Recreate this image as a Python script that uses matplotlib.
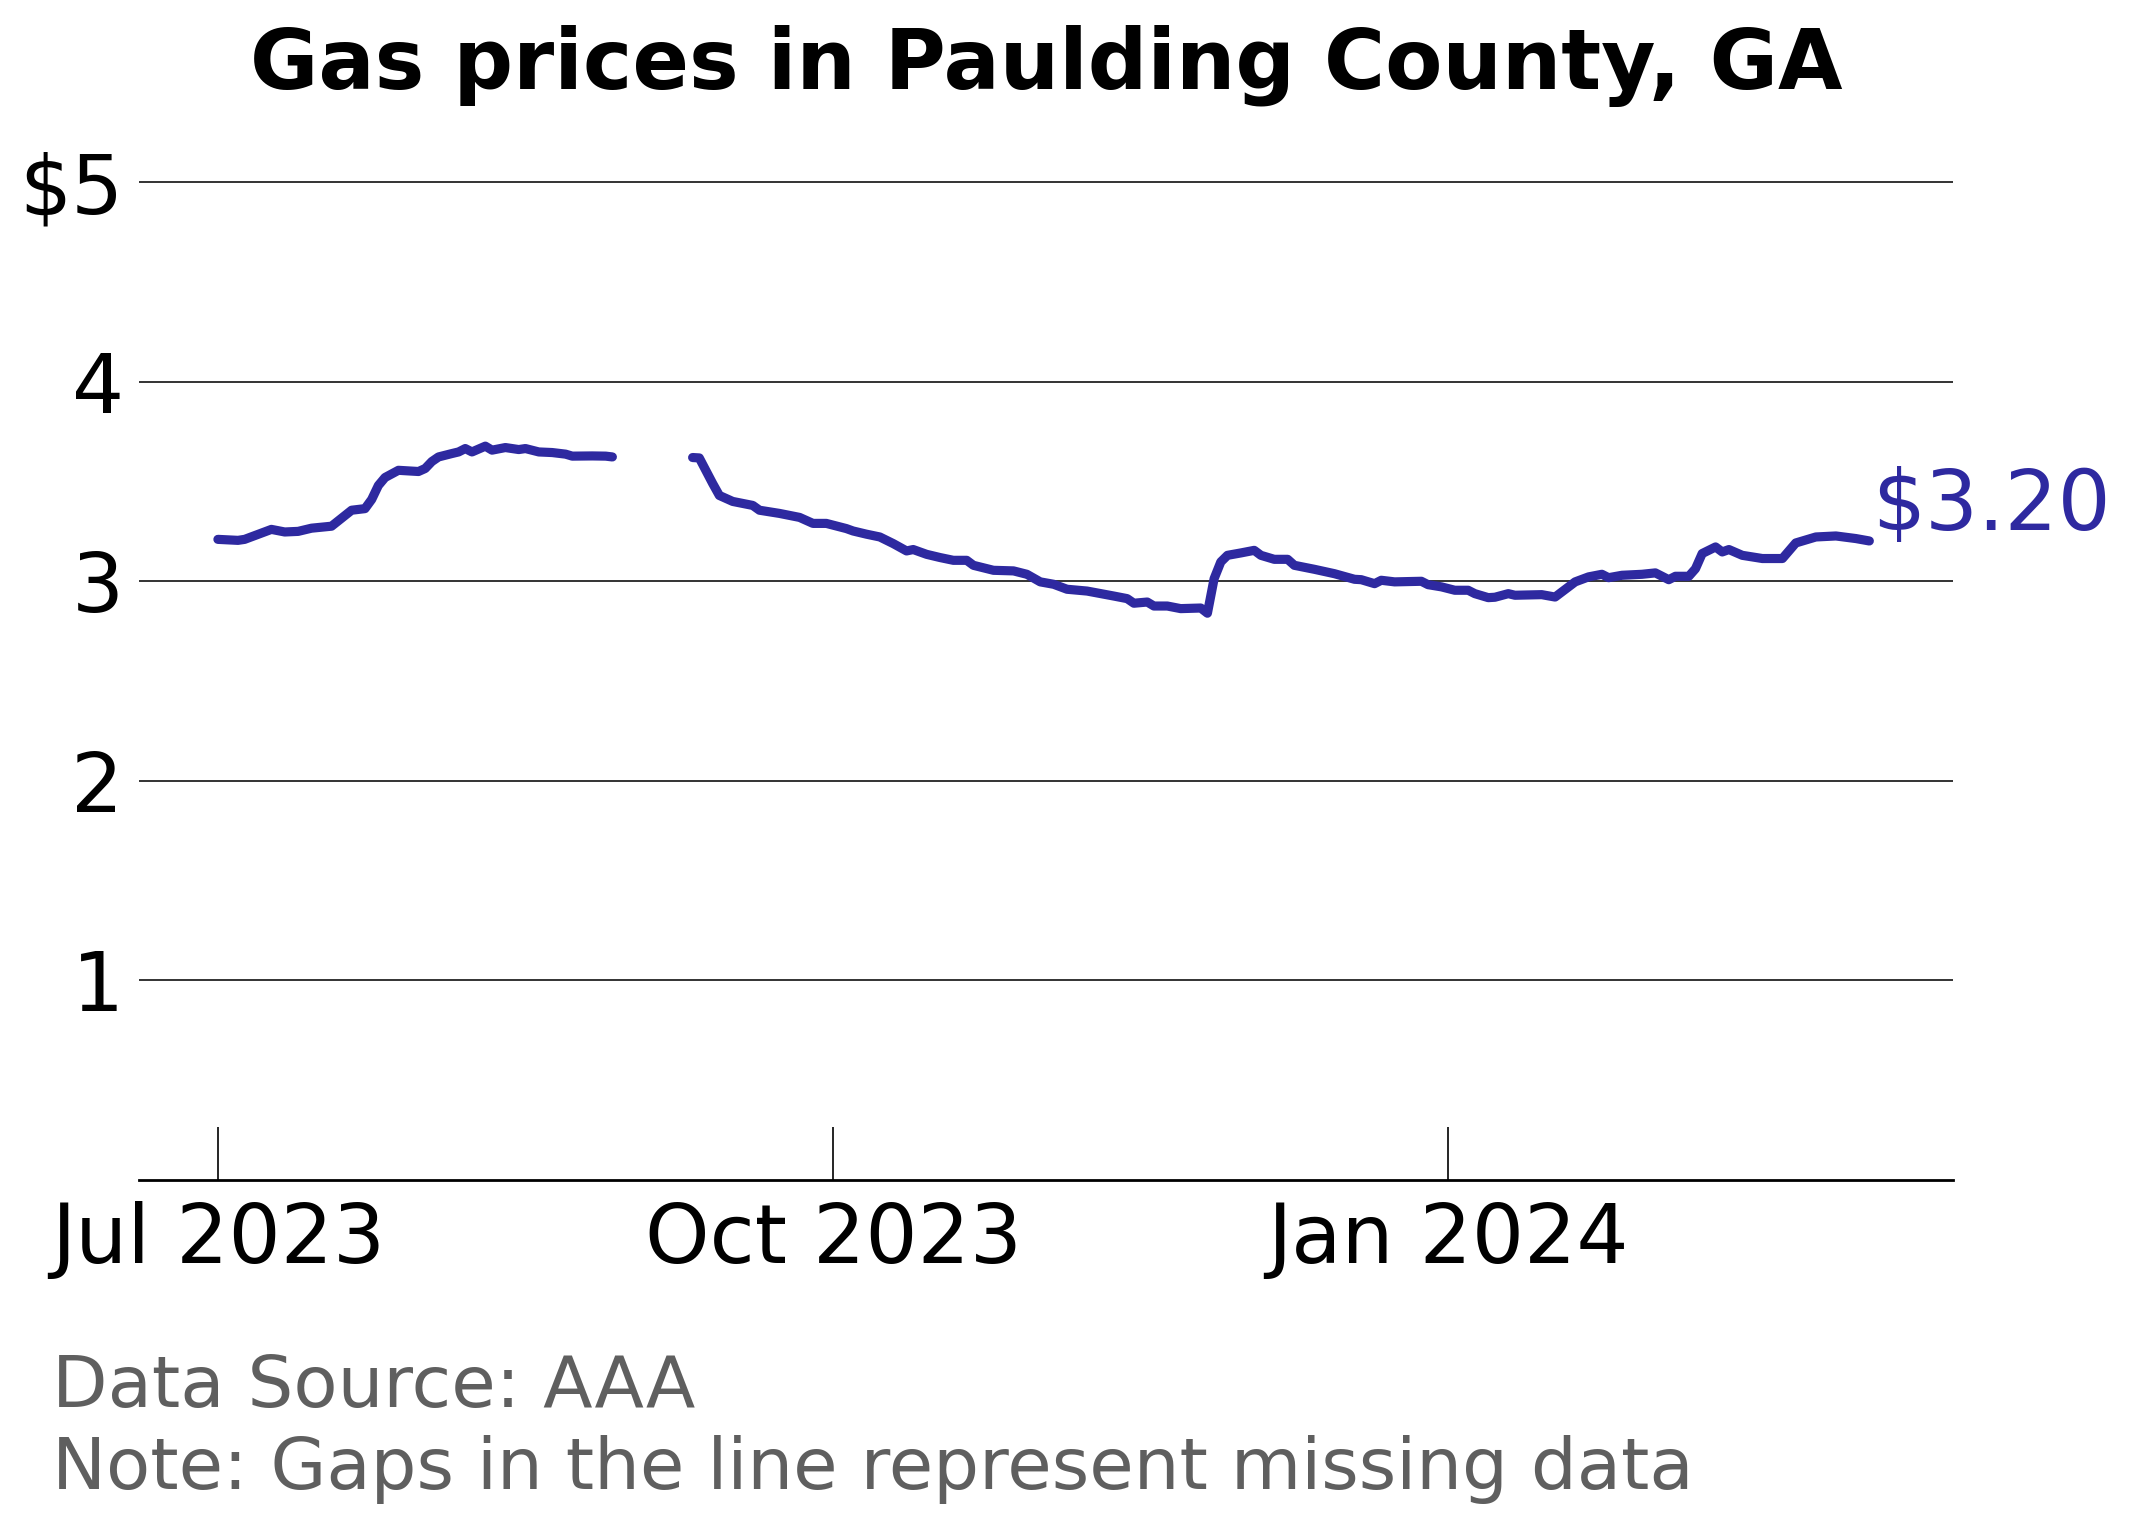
import matplotlib
matplotlib.use('Agg')
import matplotlib.pyplot as plt
import matplotlib.dates as mdates
import numpy as np
import pandas as pd

# values (gap = missing data)
dates = ['2023-07-01', '2023-07-04', '2023-07-05', '2023-07-07', '2023-07-09', '2023-07-11',
         '2023-07-13', '2023-07-15', '2023-07-18', '2023-07-21', '2023-07-23', '2023-07-24',
         '2023-07-25', '2023-07-26', '2023-07-28', '2023-07-31', '2023-08-01', '2023-08-02',
         '2023-08-03', '2023-08-05', '2023-08-06', '2023-08-07', '2023-08-08', '2023-08-10',
         '2023-08-11', '2023-08-13', '2023-08-15', '2023-08-16', '2023-08-18', '2023-08-20',
         '2023-08-22', '2023-08-23', '2023-08-26', '2023-08-28', '2023-08-29',
         '2023-09-05',
         '2023-09-10', '2023-09-11', '2023-09-13', '2023-09-14', '2023-09-16', '2023-09-19',
         '2023-09-20',
         '2023-09-23', '2023-09-26', '2023-09-28', '2023-09-30', '2023-10-03', '2023-10-04',
         '2023-10-06', '2023-10-08', '2023-10-10', '2023-10-12', '2023-10-13', '2023-10-15',
         '2023-10-17', '2023-10-19', '2023-10-21', '2023-10-22', '2023-10-25', '2023-10-28',
         '2023-10-30', '2023-11-01', '2023-11-03', '2023-11-05', '2023-11-08', '2023-11-12',
         '2023-11-14', '2023-11-15', '2023-11-17', '2023-11-18', '2023-11-20', '2023-11-22',
         '2023-11-25', '2023-11-26', '2023-11-27', '2023-11-28', '2023-11-29', '2023-12-01',
         '2023-12-03', '2023-12-04', '2023-12-06', '2023-12-08', '2023-12-09', '2023-12-12',
         '2023-12-15', '2023-12-18', '2023-12-19', '2023-12-21', '2023-12-22', '2023-12-24',
         '2023-12-28', '2023-12-29', '2023-12-31', '2024-01-02', '2024-01-04', '2024-01-05',
         '2024-01-07', '2024-01-08', '2024-01-10', '2024-01-11', '2024-01-15', '2024-01-17',
         '2024-01-20', '2024-01-22', '2024-01-24', '2024-01-25', '2024-01-27', '2024-01-30',
         '2024-02-01', '2024-02-03', '2024-02-04', '2024-02-06', '2024-02-07', '2024-02-08',
         '2024-02-10', '2024-02-11', '2024-02-12', '2024-02-14', '2024-02-17', '2024-02-20',
         '2024-02-22', '2024-02-25', '2024-02-28', '2024-03-02', '2024-03-04']
prices = [3.21, 3.205, 3.21, 3.235, 3.26, 3.247,
          3.25, 3.266, 3.276, 3.356, 3.364, 3.41,
          3.48, 3.52, 3.556, 3.55, 3.565, 3.60,
          3.623, 3.64, 3.648, 3.665, 3.648, 3.677,
          3.657, 3.67, 3.66, 3.665, 3.648, 3.645,
          3.637, 3.627, 3.628, 3.627, 3.623,
          np.nan,
          3.62, 3.618, 3.49, 3.43, 3.40, 3.38,
          3.356,
          3.34, 3.32, 3.29, 3.29, 3.264, 3.252,
          3.236, 3.222, 3.189, 3.152, 3.159, 3.135,
          3.119, 3.105, 3.105, 3.08, 3.055, 3.052,
          3.035, 2.997, 2.985, 2.96, 2.951, 2.926,
          2.913, 2.89, 2.896, 2.876, 2.876, 2.863,
          2.866, 2.84, 3.013, 3.097, 3.13, 3.142,
          3.155, 3.13, 3.11, 3.11, 3.08, 3.06,
          3.038, 3.01, 3.008, 2.988, 3.005, 2.997,
          3.0, 2.983, 2.972, 2.955, 2.955, 2.938,
          2.918, 2.92, 2.938, 2.93, 2.933, 2.921,
          2.997, 3.022, 3.035, 3.018, 3.03, 3.035,
          3.042, 3.008, 3.025, 3.025, 3.063, 3.139,
          3.172, 3.147, 3.159, 3.13, 3.114, 3.114,
          3.192, 3.222, 3.227, 3.214, 3.202]

y_ticks = [1, 2, 3, 4, 5]
y_tick_labels = ['1', '2', '3', '4', '$5']

line_color = '#2e29a0'

x = pd.to_datetime(dates)

fig = plt.figure(figsize=(10.66, 7.62), dpi=200)
ax = fig.add_axes([0.0652, 0.2257, 0.8508, 0.681])

ax.plot(x, prices, color=line_color, linewidth=3.3, solid_capstyle='round',
        solid_joinstyle='round')

last_val = prices[-1]
ax.annotate('$%.2f' % last_val, xy=(x[-1], last_val), xytext=(1, -2),
            textcoords='offset points', ha='left', va='bottom',
            fontsize=30, color=line_color, annotation_clip=False)

ax.set_ylim(0, 5.2)
ax.set_xlim(pd.Timestamp('2023-07-01') - pd.Timedelta(days=11.8),
            pd.Timestamp('2024-01-01') + pd.Timedelta(days=75.5))
ax.set_yticks(y_ticks)
ax.set_yticklabels(y_tick_labels)
ax.grid(axis='y', color='#333333', linewidth=0.7)
ax.set_axisbelow(True)

ax.xaxis.set_major_locator(mdates.MonthLocator(bymonth=[1, 4, 7, 10]))
ax.xaxis.set_major_formatter(mdates.DateFormatter('%b %Y'))

ax.tick_params(axis='y', length=0, pad=5.5, labelsize=29.5)
ax.tick_params(axis='x', direction='in', length=19, width=0.6, pad=7.5,
               labelsize=29.5, color='black')

for s in ['top', 'right', 'left']:
    ax.spines[s].set_visible(False)
ax.spines['bottom'].set_linewidth(1.0)
ax.spines['bottom'].set_color('black')

ax.set_title('Gas prices in Paulding County, GA', fontsize=30,
             fontweight='bold', pad=19)

fig.text(0.0245, 0.0768, 'Data Source: AAA', fontsize=26, color='#5f5f5f',
         va='baseline', ha='left')
fig.text(0.0245, 0.0230, 'Note: Gaps in the line represent missing data',
         fontsize=26, color='#5f5f5f', va='baseline', ha='left')

fig.savefig('out.png', dpi=200)
